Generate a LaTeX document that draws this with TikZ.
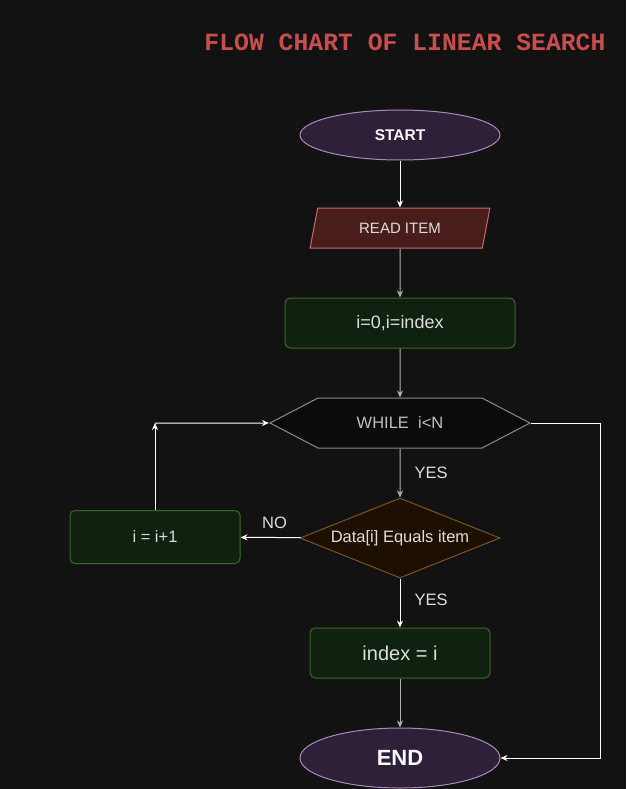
\documentclass[tikz,border=0pt]{standalone}
\usepackage{fontspec}
\setmainfont{Liberation Sans}
\newfontfamily\titlefont{Liberation Mono}
\usetikzlibrary{shapes.geometric,shapes.symbols,arrows.meta,positioning}

\definecolor{bgdark}{HTML}{121212}
\definecolor{titlered}{HTML}{C84E4E}
\definecolor{termfill}{HTML}{2E2038}
\definecolor{termline}{HTML}{A88BBD}
\definecolor{iofill}{HTML}{4A1D1D}
\definecolor{ioline}{HTML}{C96A6A}
\definecolor{procfill}{HTML}{10220F}
\definecolor{procline}{HTML}{3B6629}
\definecolor{loopfill}{HTML}{0B0B0B}
\definecolor{loopline}{HTML}{8A8A8A}
\definecolor{condfill}{HTML}{1E1000}
\definecolor{condline}{HTML}{7A5420}
\definecolor{edgegray}{HTML}{B0B0B0}
\definecolor{textgray}{HTML}{DDDDDD}

\begin{document}
\begin{tikzpicture}[x=1pt, y=-1pt, line width=1pt,
    >={Stealth[length=7pt,width=6pt]},
    every node/.style={inner sep=0pt, text=textgray, font=\fontsize{16.5}{18}\selectfont},
    term/.style={ellipse, draw=termline, fill=termfill, minimum width=200pt},
    io/.style={trapezium, trapezium left angle=70, trapezium right angle=110, trapezium stretches=true, draw=ioline, fill=iofill},
    proc/.style={rectangle, rounded corners=5pt, draw=procline, fill=procfill},
    loopbox/.style={signal, signal to=east and west, signal pointer angle=55, draw=loopline, fill=loopfill},
    cond/.style={diamond, aspect=2.5, draw=condline, fill=condfill},
    flow/.style={->, white},
    flowgray/.style={->, edgegray}]
    % Page
    \fill[bgdark] (0,0) rectangle (626,789);
    \useasboundingbox (0,0) rectangle (626,789);

    % Title
    \node[font=\titlefont\bfseries\fontsize{24.75}{28}\selectfont, text=titlered] (title) at (405,42) {FLOW CHART OF LINEAR SEARCH};

    % Steps
    \node[term, minimum height=50pt, text=white, font=\bfseries\fontsize{15.5}{17}\selectfont] (start) at (400,135) {START};
    \node[io, minimum width=180pt, minimum height=40pt, font=\fontsize{15}{17}\selectfont] (read) at (400,228) {READ ITEM};
    \node[proc, minimum width=230pt, minimum height=50pt, font=\fontsize{18}{20}\selectfont] (init) at (400,323) {i=0,i=index};
    \node[loopbox, minimum width=260pt, minimum height=50pt, text=lightgray] (while) at (400,423) {WHILE\ \ i<N};
    \node[cond, minimum width=200pt, minimum height=80pt] (check) at (400,538) {Data[i] Equals item};
    \node[proc, minimum width=170pt, minimum height=53pt] (inc) at (155,537) {i = i+1};
    \node[proc, minimum width=180pt, minimum height=50pt, font=\fontsize{20}{22}\selectfont] (found) at (400,653) {index = i};
    \node[term, minimum height=60pt, text=white, font=\bfseries\fontsize{22}{24}\selectfont] (end) at (400,758) {END};

    % Bends
    \coordinate (turn) at (155,423);
    \coordinate (rtop) at (600,423);
    \coordinate (rbot) at (600,758);

    % Connectors
    \draw[flow] (start) -- (read);
    \draw[flowgray] (read) -- (init);
    \draw[flowgray] (init) -- (while);
    \draw[flowgray] (while) -- node[right=14pt] {YES} (check);
    \draw[flow] (check) -- node[above=8pt, xshift=4pt] {NO} (inc);
    \draw[flow] (check) -- node[right=14pt, yshift=3pt] {YES} (found);
    \draw[flowgray] (found) -- (end);
    \draw[flow] (inc) -- (turn);
    \draw[flow] (turn) -- (while);
    \draw[flow] (while.east) -- (rtop) -- (rbot) -- (end);
\end{tikzpicture}
\end{document}
